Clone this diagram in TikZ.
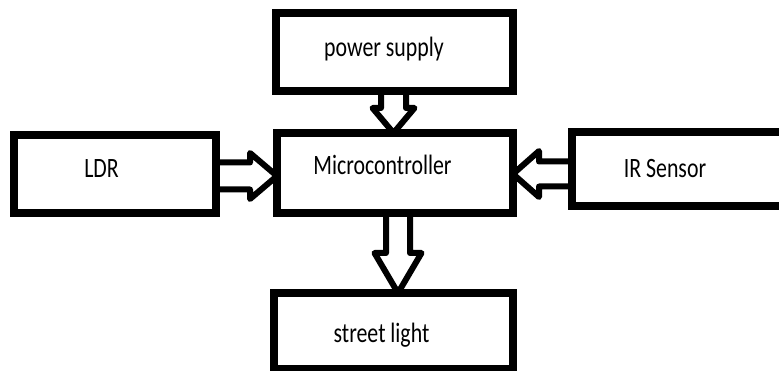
\documentclass[tikz,border=0pt]{standalone}
\usepackage{fontspec}
\setmainfont{Carlito}
\usetikzlibrary{calc}
\newcommand\blockarr[5]{% #1 start, #2 tip, #3 shaft half-width, #4 head half-width, #5 head length
  \path ($(#2)!#5!(#1)$) coordinate (hb);
  \draw[arrowbody] ($(#1)!#3!90:(#2)$) -- ($(hb)!#3!90:(#2)$) -- ($(hb)!#4!90:(#2)$) -- (#2)
    -- ($(hb)!#4!-90:(#2)$) -- ($(hb)!#3!-90:(#2)$) -- ($(#1)!#3!-90:(#2)$) -- cycle;
}
\tikzset{
  blockbox/.style={draw=black, fill=white, line width=8pt, inner sep=0pt, outer sep=0pt, rectangle},
  arrowbody/.style={draw=black, fill=white, line width=6pt, line join=round},
  boxtext/.style={anchor=base, inner sep=0pt, font=\fontsize{28}{30}\selectfont},
}
\newcommand\sq[1]{\scalebox{0.78}[1]{#1}}
\begin{document}
\begin{tikzpicture}[x=1pt, y=-1pt]
\clip (0,0) rectangle (779,371);
\fill[white] (0,0) rectangle (779,371);
% box positions (hidden first, to define anchors)
\path (394.5,52) node[blockbox, draw=none, fill=none, minimum width=237pt, minimum height=78pt] (ps) {};
\path (395,173) node[blockbox, draw=none, fill=none, minimum width=236pt, minimum height=80pt] (mc) {};
\path (115,174) node[blockbox, draw=none, fill=none, minimum width=202pt, minimum height=78pt] (ldr) {};
\path (712,169) node[blockbox, draw=none, fill=none, minimum width=280pt, minimum height=74pt] (ir) {};
\path (393.5,331) node[blockbox, draw=none, fill=none, minimum width=239pt, minimum height=76pt] (sl) {};
% arrow end points
\coordinate (a1s) at ($(ps.south)+(-1,0)$);
\coordinate (a1t) at (a1s |- mc.north);
\coordinate (a2s) at ($(ldr.east)+(0,2)$);
\coordinate (a2t) at (mc.west |- a2s);
\coordinate (a3s) at ($(ir.west)+(0,5)$);
\coordinate (a3t) at (mc.east |- a3s);
\coordinate (a4s) at ($(mc.south)+(3,0)$);
\coordinate (a4t) at (a4s |- sl.north);
% arrows
\blockarr{a1s}{a1t}{12.5pt}{21pt}{25pt}
\blockarr{a2s}{a2t}{13.5pt}{23pt}{27pt}
\blockarr{a3s}{a3t}{12.5pt}{23pt}{26pt}
\blockarr{a4s}{a4t}{12pt}{23.5pt}{40pt}
% boxes drawn on top
\node[blockbox, minimum width=237pt, minimum height=78pt] (psbox) at (ps) {};
\node[blockbox, minimum width=236pt, minimum height=80pt] (mcbox) at (mc) {};
\node[blockbox, minimum width=202pt, minimum height=78pt] (ldrbox) at (ldr) {};
\node[blockbox, minimum width=280pt, minimum height=74pt] (irbox) at (ir) {};
\node[blockbox, minimum width=239pt, minimum height=76pt] (slbox) at (sl) {};
% texts
\node[boxtext] (pst) at (384,57) {\sq{power supply}};
\node[boxtext] (mct) at (382.5,175) {\sq{Microcontroller}};
\node[boxtext] (ldrt) at (101.5,178) {\sq{LDR}};
\node[boxtext] (irt) at (665,178) {\sq{IR Sensor}};
\node[boxtext] (slt) at (381.5,342) {\sq{street light}};
\end{tikzpicture}
\end{document}
